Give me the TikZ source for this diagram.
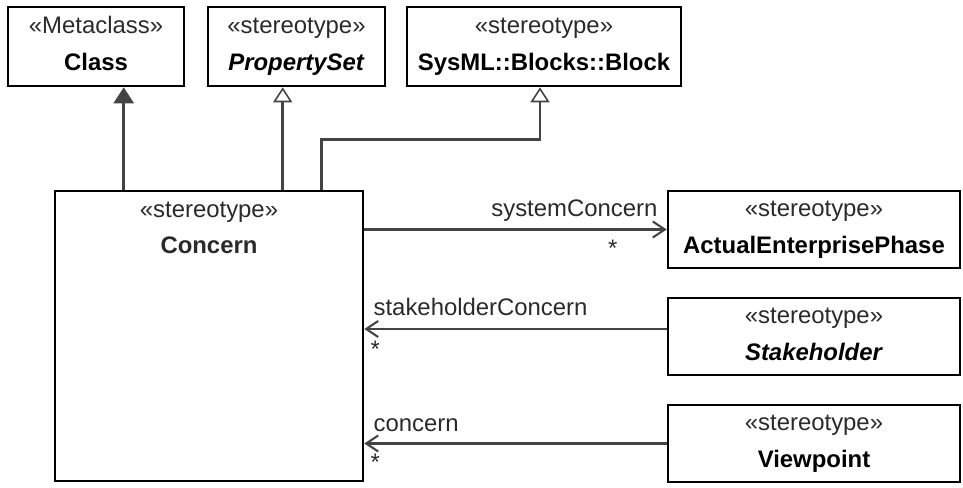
\documentclass[tikz,border=0pt]{standalone}
\usepackage{fontspec}
\setmainfont{Liberation Sans}
\usetikzlibrary{arrows.meta,calc}
\definecolor{linegray}{HTML}{444444}
\definecolor{stereogray}{HTML}{2A2A2A}
\newcommand{\stereo}[2]{\rule{0pt}{0.36cm}{\color{stereogray}«#1»}\\#2\rule[-0.14cm]{0pt}{0.14cm}}

\begin{document}
\begin{tikzpicture}[x=0.02cm,y=-0.02cm,font=\fontsize{13.6}{20.5}\selectfont,
  box/.style={draw,line width=1.5pt,align=center,inner sep=0pt},
  conn/.style={draw=linegray,line width=1.5pt},
  gen/.style={conn,-{Triangle[open,width=0.38cm,length=0.3cm,line width=0.9pt]}},
  meta/.style={conn,-{Triangle[width=0.4cm,length=0.32cm,fill=linegray]}},
  assoc/.style={conn,-{Straight Barb[width=0.32cm,length=0.24cm,line width=1.2pt]}},
  lbl/.style={inner sep=0pt,text=stereogray}]
\useasboundingbox (0,0) rectangle (963,487);

\node[box,minimum width=3.52cm,minimum height=1.58cm] (class) at (96,46.5) {\stereo{Metaclass}{\textbf{Class}}};
\node[box,minimum width=3.54cm,minimum height=1.58cm] (propset) at (296.5,46.5) {\stereo{stereotype}{\textbf{\textit{PropertySet}}}};
\node[box,minimum width=5.48cm,minimum height=1.58cm] (block) at (544,46.5) {\stereo{stereotype}{\textbf{SysML::Blocks::Block}}};

\node[box,minimum width=6.16cm,minimum height=5.8cm] (concern) at (209,336) {};
\node[lbl,anchor=north,align=center] (concernname) at ($(concern.north)+(0,9)$) {\stereo{stereotype}{\textbf{Concern}}};

\node[box,minimum width=5.84cm,minimum height=1.54cm] (aep) at (814,229.5) {\stereo{stereotype}{\textbf{ActualEnterprisePhase}}};
\node[box,minimum width=5.84cm,minimum height=1.54cm] (stake) at (814,336.5) {\stereo{stereotype}{\textbf{\textit{Stakeholder}}}};
\node[box,minimum width=5.84cm,minimum height=1.54cm] (viewp) at (814,443.5) {\stereo{stereotype}{\textbf{Viewpoint}}};

\draw[meta] ($(concern.north west)+(70,0)$) coordinate (c1) -- (c1 |- class.south);
\draw[gen] ($(concern.north west)+(229,0)$) coordinate (c2) -- (c2 |- propset.south);
\draw[gen] ($(concern.north west)+(268,0)$) |- ($(block.south)+(-4,52)$) -- ($(block.south)+(-4,0)$);

\draw[assoc] (concern.east |- aep.west) -- (aep.west);
\draw[assoc] ($(stake.west)+(0,-7.5)$) coordinate (s1) -- (s1 -| concern.east) coordinate (s2);
\draw[assoc] (viewp.west) -- (viewp.west -| concern.east) coordinate (v2);

\node[lbl,anchor=base east] (sysname) at ($(aep.west)+(-9,-13)$) {systemConcern};
\node[lbl,anchor=base] (sysmult) at ($(aep.west)+(-54,27)$) {*};
\node[lbl,anchor=base west] (stakename) at ($(s2)+(9,-14)$) {stakeholderConcern};
\node[lbl,anchor=base] (stakemult) at ($(s2)+(11,28)$) {*};
\node[lbl,anchor=base west] (viewname) at ($(v2)+(9,-12)$) {concern};
\node[lbl,anchor=base] (viewmult) at ($(v2)+(11,27)$) {*};
\end{tikzpicture}
\end{document}
